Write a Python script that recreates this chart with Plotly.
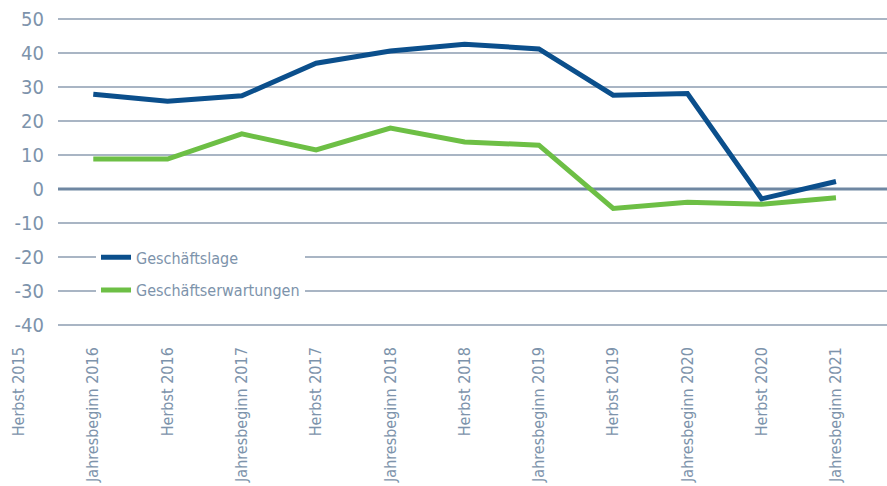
import plotly.graph_objects as go

CATEGORIES = ["Herbst 2015", "Jahresbeginn 2016", "Herbst 2016", "Jahresbeginn 2017",
              "Herbst 2017", "Jahresbeginn 2018", "Herbst 2018", "Jahresbeginn 2019",
              "Herbst 2019", "Jahresbeginn 2020", "Herbst 2020", "Jahresbeginn 2021"]
DATA_CATEGORIES = CATEGORIES[1:]
GESCHAEFTSLAGE = [27.9, 25.8, 27.4, 37.0, 40.6, 42.6, 41.2, 27.6, 28.1, -2.9, 2.2]
GESCHAEFTSERWARTUNGEN = [8.8, 8.8, 16.2, 11.5, 17.9, 13.8, 12.9, -5.7, -3.9, -4.5, -2.6]
Y_TICKS = [50, 40, 30, 20, 10, 0, -10, -20, -30, -40]
Y_TICKTEXT = ["50", "40", "30", "20", "10", "0", "-10", "-20", "-30", "-40"]

W, H = 887, 486
TXT = "#7d93ab"
FONT = "DejaVu Sans Condensed, DejaVu Sans, sans-serif"

fig = go.Figure()
fig.add_trace(go.Scatter(x=DATA_CATEGORIES, y=GESCHAEFTSLAGE, mode="lines",
                         name="Geschäftslage", legendgroup="a",
                         line=dict(color="#0b4f8c", width=5)))
fig.add_trace(go.Scatter(x=DATA_CATEGORIES, y=GESCHAEFTSERWARTUNGEN, mode="lines",
                         name="Geschäftserwartungen", legendgroup="b",
                         line=dict(color="#6dbf45", width=5)))

left_px = 58
grid_shapes = [
    dict(type="line", xref="paper", yref="y", x0=left_px / W, x1=1, y0=v, y1=v,
         line=dict(color="#6f87a2" if v == 0 else "#8c9db1", width=3 if v == 0 else 1.5),
         layer="below")
    for v in Y_TICKS
]

fig.update_layout(
    width=W, height=H,
    margin=dict(l=0, r=0, t=18, b=160, autoexpand=False),
    plot_bgcolor="white", paper_bgcolor="white",
    font=dict(family=FONT, color=TXT),
    xaxis=dict(type="category", categoryorder="array", categoryarray=CATEGORIES,
               range=[-0.256, 11.687], showgrid=False, zeroline=False, showline=False,
               ticks="", tickangle=-90, tickfont=dict(size=16, color=TXT, family=FONT),
               ticklabelstandoff=17, automargin=False),
    yaxis=dict(range=[-40.3, 50.3], tickvals=Y_TICKS, ticktext=Y_TICKTEXT,
               anchor="free", position=left_px / W,
               showgrid=False, zeroline=False, showline=False, ticks="",
               tickfont=dict(size=20, color=TXT, family=FONT),
               ticklabelstandoff=14, automargin=False),
    shapes=grid_shapes,
    showlegend=True,
    legend=dict(x=96 / W, y=0.278, xanchor="left", yanchor="top", bgcolor="white",
                font=dict(size=16, color=TXT, family=FONT), traceorder="grouped",
                tracegroupgap=9, itemwidth=30),
)

fig.write_html("out.html", config={"displayModeBar": False},
               post_script="document.body.style.margin='0';")
